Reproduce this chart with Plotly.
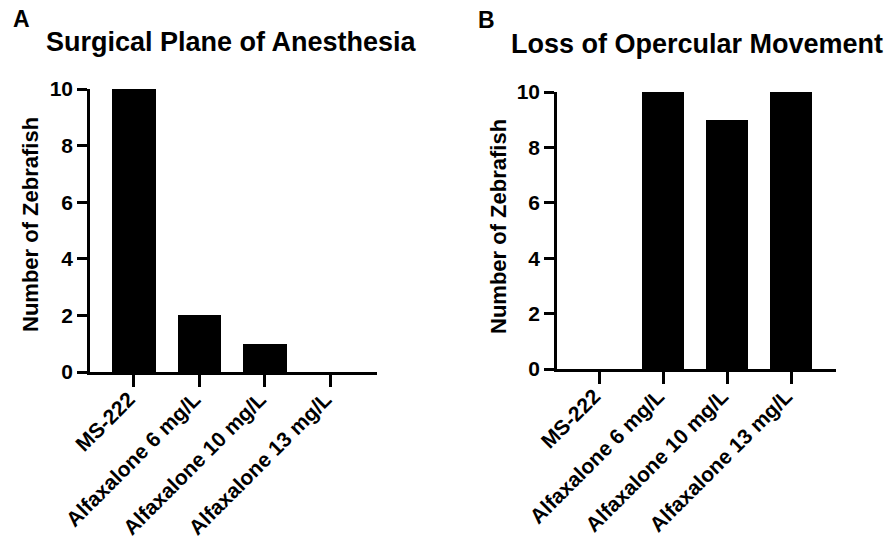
import plotly.graph_objects as go

# Data
categories = ["MS-222", "Alfaxalone 6 mg/L", "Alfaxalone 10 mg/L", "Alfaxalone 13 mg/L"]
surgical_plane = [10, 2, 1, 0]
opercular_loss = [0, 10, 9, 10]
y_ticks = [0, 2, 4, 6, 8, 10]

W, H = 885, 542
FONT = "Liberation Sans, Arial, sans-serif"


def fx(px):
    return px / W


def fy(py):
    return 1 - py / H


fig = go.Figure()
fig.add_trace(go.Bar(x=categories, y=surgical_plane, xaxis="x", yaxis="y",
                     width=0.66, marker=dict(color="black", line=dict(width=0))))
fig.add_trace(go.Bar(x=categories, y=opercular_loss, xaxis="x2", yaxis="y2",
                     width=0.66, marker=dict(color="black", line=dict(width=0))))

tick_font = dict(family=FONT, size=21, color="black", weight="bold")

common_x = dict(type="category", showline=True, linewidth=2.5, linecolor="black",
                ticks="outside", ticklen=12, tickwidth=2.5, tickcolor="black",
                showgrid=False, zeroline=False, tickangle=-45, tickfont=tick_font,
                ticklabelstandoff=-8, ticklabelshift=-5,
                fixedrange=True, automargin=False)
common_y = dict(showline=True, linewidth=2.5, linecolor="black",
                ticks="outside", ticklen=10, tickwidth=2.5, tickcolor="black",
                showgrid=False, zeroline=False, tickvals=y_ticks, range=[0, 10],
                tickfont=tick_font, fixedrange=True, automargin=False)

fig.update_layout(
    width=W, height=H,
    margin=dict(l=0, r=0, t=0, b=0, autoexpand=False),
    paper_bgcolor="white", plot_bgcolor="white",
    showlegend=False,
    bargap=0,
    xaxis=dict(common_x, domain=[fx(90), fx(377)], range=[-0.67, 3.71], anchor="y"),
    yaxis=dict(common_y, domain=[fy(372), fy(89)], anchor="x"),
    xaxis2=dict(common_x, domain=[fx(557), fx(836)], range=[-0.66, 3.70], anchor="y2"),
    yaxis2=dict(common_y, domain=[fy(369), fy(92)], anchor="x2"),
)

ann = []
title_font = dict(family=FONT, size=27, color="black", weight="bold")
label_font = dict(family=FONT, size=23, color="black", weight="bold")
axis_font = dict(family=FONT, size=22, color="black", weight="bold")

ann.append(dict(text="A", x=fx(21), y=fy(19), font=label_font))
ann.append(dict(text="B", x=fx(487), y=fy(20), font=label_font))
ann.append(dict(text="Surgical Plane of Anesthesia", x=fx(231), y=fy(42), font=title_font))
ann.append(dict(text="Loss of Opercular Movement", x=fx(697), y=fy(44), font=title_font))
ann.append(dict(text="Number of Zebrafish", x=fx(30), y=fy(225), textangle=-90, font=axis_font))
ann.append(dict(text="Number of Zebrafish", x=fx(498), y=fy(227), textangle=-90, font=axis_font))

for a in ann:
    a.update(xref="paper", yref="paper", xanchor="center", yanchor="middle", showarrow=False)
fig.update_layout(annotations=ann)

fig.write_html("out.html")
